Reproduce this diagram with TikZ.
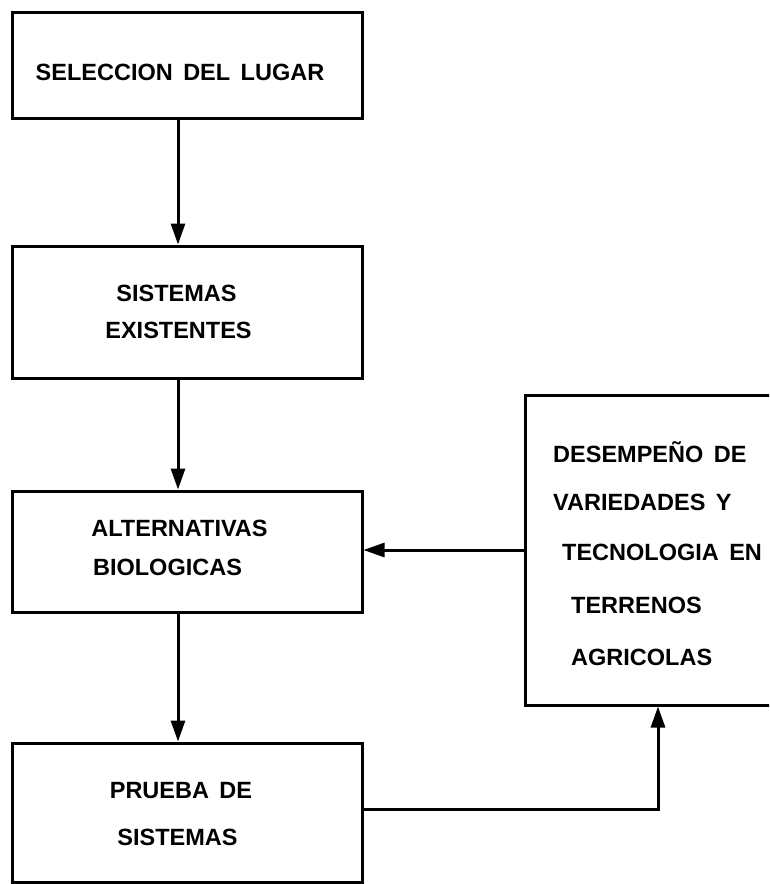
\documentclass[tikz,border=0pt]{standalone}
\usepackage{fontspec}
\setmainfont{Liberation Sans}[WordSpace=1.6]
\usetikzlibrary{arrows.meta}
\begin{document}
\begin{tikzpicture}[x=1pt,y=-1pt,
  box/.style={draw,line width=3pt,minimum width=350pt,inner sep=0pt,line join=miter},
  txt/.style={font=\bfseries\fontsize{23.5}{28}\selectfont,inner sep=0pt},
  conn/.style={line width=3pt,-{Triangle[length=21pt,width=14pt]}}]
\useasboundingbox (0,0) rectangle (769,884);
\clip (0,0) rectangle (769,884);
% boxes
\node[box,minimum height=106pt] (b1) at (187,65) {};
\node[box,minimum height=132pt] (b2) at (187,312) {};
\node[box,minimum height=121pt] (b3) at (187,551.5) {};
\node[box,minimum height=139pt] (b4) at (187,812.5) {};
\node[box,minimum width=250pt,minimum height=310pt] (b5) at (650,550) {};
% texts
\node[txt,anchor=base] (t1) at (180,80.6) {SELECCION DEL LUGAR};
\node[txt,anchor=base] (t2a) at (176.5,301.6) {SISTEMAS};
\node[txt,anchor=base] (t2b) at (178.5,338.6) {EXISTENTES};
\node[txt,anchor=base] (t3a) at (179.5,536.6) {ALTERNATIVAS};
\node[txt,anchor=base] (t3b) at (167.5,575.6) {BIOLOGICAS};
\node[txt,anchor=base] (t4a) at (181,798.6) {PRUEBA DE};
\node[txt,anchor=base] (t4b) at (177.5,845.6) {SISTEMAS};
\node[txt,anchor=base west] (t5a) at (553,462) {DESEMPEÑO DE};
\node[txt,anchor=base west] (t5b) at (553,510.6) {VARIEDADES Y};
\node[txt,anchor=base west] (t5c) at (562,560.6) {TECNOLOGIA EN};
\node[txt,anchor=base west] (t5d) at (571,613.6) {TERRENOS};
\node[txt,anchor=base west] (t5e) at (571,665.6) {AGRICOLAS};
% connectors
\coordinate (ax) at (178,0);
\coordinate (bx) at (658,809);
\draw[conn] (b1.south -| ax) -- (b2.north -| ax);
\draw[conn] (b2.south -| ax) -- (b3.north -| ax);
\draw[conn] (b3.south -| ax) -- (b4.north -| ax);
\draw[conn] (b5.west) -- (b3.east |- b5.west);
\draw[conn] (b4.east |- bx) -- (bx) -- (b5.south -| bx);
\end{tikzpicture}
\end{document}
